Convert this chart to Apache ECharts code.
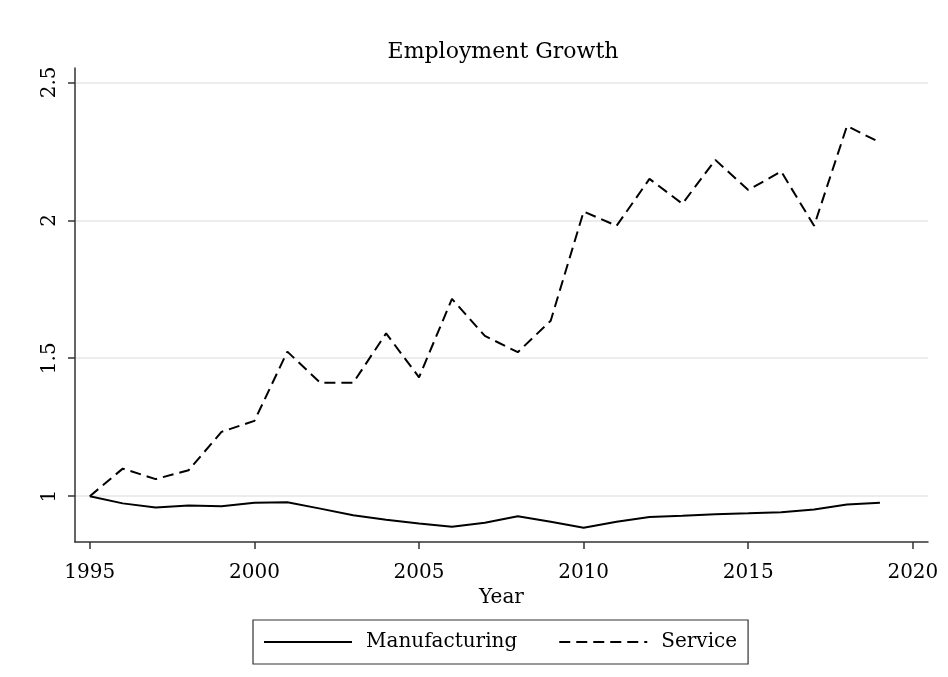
<!DOCTYPE html>
<html>
<head>
<meta charset="utf-8">
<script src="https://cdn.jsdelivr.net/npm/echarts@6/dist/echarts.min.js"></script>
<style>
  html, body { margin: 0; padding: 0; background: #fff; }
  #chart { width: 948px; height: 677px; }
</style>
</head>
<body>
<div id="chart"></div>
<script>
// years on the x axis
const years = [1995, 1996, 1997, 1998, 1999, 2000, 2001, 2002, 2003, 2004, 2005, 2006, 2007,
  2008, 2009, 2010, 2011, 2012, 2013, 2014, 2015, 2016, 2017, 2018, 2019];

// manufacturing employment index (1995 = 1)
const manufacturing = [1.000, 0.974, 0.959, 0.966, 0.964, 0.976, 0.978, 0.955, 0.931, 0.915, 0.901, 0.889, 0.904,
  0.927, 0.907, 0.886, 0.907, 0.925, 0.929, 0.935, 0.938, 0.942, 0.952, 0.970, 0.976];

// service employment index (1995 = 1)
const service = [1.000, 1.100, 1.062, 1.094, 1.233, 1.273, 1.524, 1.411, 1.411, 1.590, 1.431, 1.715, 1.581,
  1.522, 1.636, 2.032, 1.980, 2.150, 2.060, 2.219, 2.110, 2.177, 1.980, 2.342, 2.282];

const xTicks = [1995, 2000, 2005, 2010, 2015, 2020];
const yTicks = [1, 1.5, 2, 2.5];

const font = 'DejaVu Serif';
const chart = echarts.init(document.getElementById('chart'));

const pairs = (vals) => years.map((y, i) => [y, vals[i]]);

chart.setOption({
  animation: false,
  backgroundColor: '#fff',
  title: {
    text: 'Employment Growth',
    left: 498, top: 36, textAlign: 'center',
    textStyle: { fontFamily: font, fontSize: 22, fontWeight: 'normal', color: '#000' }
  },
  grid: { left: 75, right: 20, top: 68, bottom: 135 },
  xAxis: {
    type: 'value',
    min: 1994.55, max: 2020.46,
    name: 'Year', nameLocation: 'middle', nameGap: 40,
    nameTextStyle: { fontFamily: font, fontSize: 20, color: '#000' },
    axisLine: { onZero: false, lineStyle: { color: '#333', width: 1.5 } },
    axisTick: { customValues: xTicks, length: 7, lineStyle: { color: '#333', width: 1.5 } },
    axisLabel: {
      customValues: xTicks, formatter: (v) => String(v),
      fontFamily: font, fontSize: 20, color: '#000', margin: 21
    },
    splitLine: { show: false }
  },
  yAxis: {
    type: 'value',
    min: 0.834, max: 2.552,
    axisLine: { show: true, lineStyle: { color: '#333', width: 1.5 } },
    axisTick: { show: true, customValues: yTicks, length: 7, lineStyle: { color: '#333', width: 1.5 } },
    axisLabel: { customValues: yTicks, rotate: 90, fontFamily: font, fontSize: 20, color: '#000', margin: 15 },
    splitLine: { show: true, lineStyle: { color: '#e6e6e6', width: 1.5 } }
  },
  legend: {
    left: 253, top: 620,
    orient: 'horizontal',
    borderColor: '#333', borderWidth: 1.2,
    padding: [12, 11, 12, 10],
    itemWidth: 88, itemHeight: 18, itemGap: 41,
    itemStyle: { opacity: 0 },
    textStyle: { fontFamily: font, fontSize: 20, color: '#000', padding: [0, 0, 0, 9] },
    data: ['Manufacturing', 'Service']
  },
  series: [
    {
      name: 'Manufacturing', type: 'line', symbol: 'none',
      data: pairs(manufacturing),
      lineStyle: { color: '#000', width: 2, type: 'solid' },
      itemStyle: { color: '#000' }
    },
    {
      name: 'Service', type: 'line', symbol: 'none',
      data: pairs(service),
      lineStyle: { color: '#000', width: 2, type: [11, 6] },
      itemStyle: { color: '#000' }
    }
  ]
});
</script>
</body>
</html>
